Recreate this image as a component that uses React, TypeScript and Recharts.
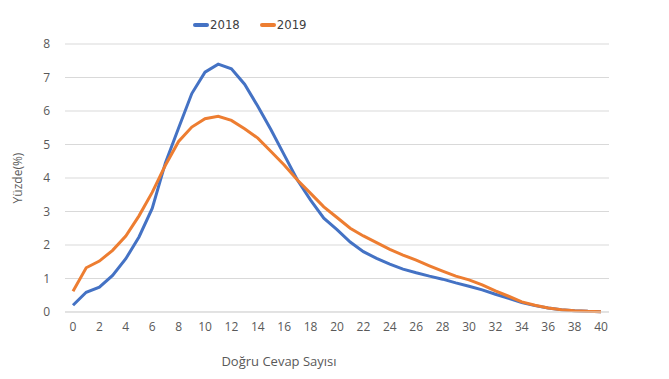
import React from "react";
import { LineChart, Line, XAxis, YAxis, CartesianGrid, Legend } from "recharts";

const answers = [0,1,2,3,4,5,6,7,8,9,10,11,12,13,14,15,16,17,18,19,20,21,22,23,24,25,26,27,28,29,30,31,32,33,34,35,36,37,38,39,40];
const s2018 = [0.2,0.59,0.74,1.09,1.59,2.24,3.09,4.45,5.49,6.52,7.16,7.40,7.26,6.8,6.14,5.44,4.69,3.94,3.34,2.80,2.46,2.09,1.80,1.60,1.43,1.28,1.17,1.07,0.98,0.87,0.77,0.66,0.53,0.41,0.28,0.19,0.12,0.07,0.04,0.02,0.01];
const s2019 = [0.62,1.32,1.52,1.84,2.27,2.87,3.57,4.38,5.09,5.52,5.77,5.84,5.72,5.47,5.19,4.79,4.39,3.94,3.54,3.14,2.82,2.50,2.27,2.07,1.87,1.70,1.55,1.38,1.22,1.07,0.96,0.81,0.63,0.47,0.30,0.20,0.12,0.07,0.04,0.02,0.01];
const xTicks = [0,2,4,6,8,10,12,14,16,18,20,22,24,26,28,30,32,34,36,38,40];
const yTicks = [0,1,2,3,4,5,6,7,8];
const seriesNames = ["2018", "2019"];
const colors = ["#4472C4", "#ED7D31"];

const data = answers.map((a, i) => ({ x: a, y2018: s2018[i], y2019: s2019[i] }));

const FONT = "'Open Sans', sans-serif";

const renderLegend = () => (
  <div style={{ display: "flex", alignItems: "center", fontFamily: "'DejaVu Sans Condensed', 'Liberation Sans Narrow', sans-serif", fontSize: 13, color: "#404040" }}>
    {seriesNames.map((n, i) => (
      <div key={n} style={{ display: "flex", alignItems: "center", marginRight: i === 0 ? 20 : 0 }}>
        <span style={{ display: "inline-block", width: 16, height: 4, borderRadius: 2, background: colors[i], marginRight: 1 }} />
        <span>{n}</span>
      </div>
    ))}
  </div>
);

export default function App() {
  return (
    <div style={{ position: "absolute", left: 0, top: 0, width: 669, height: 379, background: "#fff" }}>
      <LineChart width={669} height={379} data={data} margin={{ top: 44, right: 60, bottom: 37, left: 0 }}>
        <CartesianGrid horizontal vertical={false} stroke="#D9D9D9" />
        <XAxis
          dataKey="x"
          type="number"
          domain={[0, 40]}
          ticks={xTicks}
          interval={0}
          padding={{ left: 8, right: 8 }}
          axisLine={{ stroke: "#D9D9D9" }}
          tickLine={false}
          tickMargin={4}
          height={30}
          tick={{ fill: "#595959", fontSize: 12, fontFamily: FONT }}
          label={{
            content: () => (
              <text x={279} y={366} textAnchor="middle" fill="#595959" fontSize={13} fontFamily={FONT}>
                Doğru Cevap Sayısı
              </text>
            ),
          }}
        />
        <YAxis
          type="number"
          domain={[0, 8]}
          ticks={yTicks}
          width={65}
          axisLine={false}
          tickLine={false}
          tickMargin={9}
          tick={{ fill: "#595959", fontSize: 12, fontFamily: FONT }}
          label={{
            content: () => (
              <text x={22} y={178} textAnchor="middle" fill="#595959" fontSize={12} fontFamily={FONT} transform="rotate(-90 22 178)">
                Yüzde(%)
              </text>
            ),
          }}
        />
        <Legend verticalAlign="middle" layout="horizontal" content={renderLegend} wrapperStyle={{ left: 193, top: 17, width: "auto", height: 20 }} />
        <Line type="linear" dataKey="y2018" name="2018" stroke={colors[0]} strokeWidth={3} dot={false} isAnimationActive={false} />
        <Line type="linear" dataKey="y2019" name="2019" stroke={colors[1]} strokeWidth={3} dot={false} isAnimationActive={false} />
      </LineChart>
    </div>
  );
}
